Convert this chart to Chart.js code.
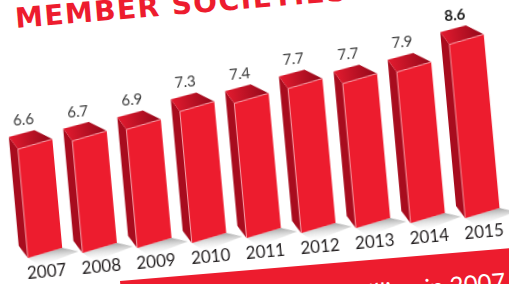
<!DOCTYPE html>
<html>
<head>
<meta charset="utf-8">
<script src="https://cdn.jsdelivr.net/npm/chart.js@4/dist/chart.umd.min.js"></script>
<style>
  html, body { margin: 0; padding: 0; background: #fff; overflow: hidden; }
  #page { position: relative; width: 509px; height: 284px; overflow: hidden; background: #fff; }
  #title {
    position: absolute; left: 16px; top: 5px;
    font-family: 'DejaVu Sans', sans-serif; font-weight: bold; font-size: 28px; line-height: 28px;
    letter-spacing: 1.5px; color: #ed1c2e; white-space: nowrap;
    transform-origin: 0 24px; transform: rotate(-4.8deg);
  }
  #band {
    position: absolute; left: 120px; top: 281px; width: 500px; height: 80px;
    background: #ed1c2e; transform-origin: 0 0; transform: rotate(-4.8deg);
  }
  #band span {
    position: absolute; right: 116px; top: 17px; white-space: nowrap;
    font-family: Lato, sans-serif; font-size: 24px; color: #fff;
  }
  #chartBox {
    position: absolute; left: -12px; top: -32px; width: 560px; height: 330px;
    transform-origin: 40px 290px; transform: rotate(-5.2deg);
  }
</style>
</head>
<body>
<div id="page">
  <div id="title">MEMBER SOCIETIES COLLECTIONS</div>
  <div id="band"><span>€6.6 billion in 2007</span></div>
  <div id="chartBox"><canvas id="bars" width="560" height="330"></canvas></div>
</div>
<script>
// collections, EUR billion
const years = ['2007', '2008', '2009', '2010', '2011', '2012', '2013', '2014', '2015'];
const collections = [6.6, 6.7, 6.9, 7.3, 7.4, 7.7, 7.7, 7.9, 8.6];
const valueLabels = ['6.6', '6.7', '6.9', '7.3', '7.4', '7.7', '7.7', '7.9', '8.6'];

const RED = '#ed1c2e';
const SIDE = '#a80c1e';

// fake 3d boxes drawn on top of the (invisible) chart.js bars
const bars3d = {
  id: 'bars3d',
  afterDatasetsDraw(chart) {
    const ctx = chart.ctx;
    const yScale = chart.scales.y;
    const floor = yScale.getPixelForValue(yScale.min);
    const meta = chart.getDatasetMeta(0);
    const skew = 7;
    const back = { lx: -8, ly: -13, rx: -17, ry: -10.5 };
    const boxes = meta.data.map(bar => ({
      L: bar.x - bar.width / 2, R: bar.x + bar.width / 2, T: bar.y, B: floor, x: bar.x
    }));

    ctx.save();
    // shadows first
    boxes.forEach(b => {
      const g = ctx.createLinearGradient(0, b.B - skew, 0, b.B + 10);
      g.addColorStop(0, 'rgba(90,90,90,0.55)');
      g.addColorStop(1, 'rgba(255,255,255,0)');
      ctx.fillStyle = g;
      ctx.beginPath();
      ctx.moveTo(b.L, b.B);
      ctx.lineTo(b.R, b.B - skew);
      ctx.lineTo(b.R + 16, b.B - skew + 5);
      ctx.lineTo(b.L + 12, b.B + 9);
      ctx.closePath();
      ctx.fill();
    });

    boxes.forEach((b, i) => {
      // left side
      ctx.fillStyle = SIDE;
      ctx.beginPath();
      ctx.moveTo(b.L, b.T);
      ctx.lineTo(b.L + back.lx, b.T + back.ly);
      ctx.lineTo(b.L + back.lx, b.B + back.ly);
      ctx.lineTo(b.L, b.B);
      ctx.closePath();
      ctx.fill();

      // top
      const tg = ctx.createLinearGradient(b.L - 6, 0, b.R - 4, 0);
      tg.addColorStop(0, '#e01a2e');
      tg.addColorStop(1, '#9a0a1c');
      ctx.fillStyle = tg;
      ctx.beginPath();
      ctx.moveTo(b.L, b.T);
      ctx.lineTo(b.R, b.T - skew);
      ctx.lineTo(b.R + back.rx, b.T - skew + back.ry);
      ctx.lineTo(b.L + back.lx, b.T + back.ly);
      ctx.closePath();
      ctx.fill();

      // front
      ctx.fillStyle = RED;
      ctx.beginPath();
      ctx.moveTo(b.L, b.T);
      ctx.lineTo(b.R, b.T - skew);
      ctx.lineTo(b.R, b.B - skew);
      ctx.lineTo(b.L, b.B);
      ctx.closePath();
      ctx.fill();

      // light edges
      ctx.strokeStyle = 'rgba(255,190,196,0.9)';
      ctx.lineWidth = 0.8;
      ctx.beginPath();
      ctx.moveTo(b.L, b.B);
      ctx.lineTo(b.L, b.T);
      ctx.lineTo(b.R, b.T - skew);
      ctx.stroke();

      // value label
      const last = i === boxes.length - 1;
      ctx.fillStyle = last ? '#222' : '#3a3a3a';
      ctx.font = (last ? 'bold ' : '') + '15px Lato';
      ctx.textAlign = 'center';
      ctx.textBaseline = 'alphabetic';
      ctx.fillText(valueLabels[i], b.L + 8, b.T - 24);

      // year label
      ctx.fillStyle = '#231f20';
      ctx.font = '17px Lato';
      ctx.fillText(years[i], b.x, b.B + 21);
    });
    ctx.restore();
  }
};

new Chart(document.getElementById('bars'), {
  type: 'bar',
  data: {
    labels: years,
    datasets: [{
      data: collections,
      backgroundColor: 'rgba(0,0,0,0)',
      borderWidth: 0,
      categoryPercentage: 1,
      barPercentage: 0.64
    }]
  },
  options: {
    responsive: false,
    animation: false,
    devicePixelRatio: 1,
    layout: { padding: { left: 30, right: 36, top: 20, bottom: 40 } },
    plugins: { legend: { display: false }, tooltip: { enabled: false } },
    scales: {
      x: { display: false },
      y: { display: false, min: 3.25, max: 11.53 }
    }
  },
  plugins: [bars3d]
});
</script>
</body>
</html>
